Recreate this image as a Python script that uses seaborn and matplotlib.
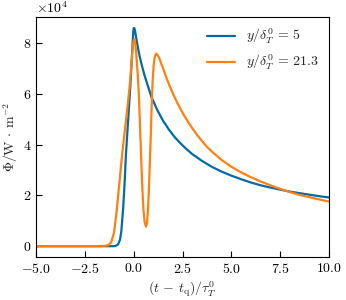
import matplotlib
matplotlib.use("Agg")
import matplotlib.pyplot as plt
import seaborn as sns
import pandas as pd

# Series 1: y/delta_T^0 = 5
t_blue = [-5.0, -2.0, -1.0, -0.9, -0.8, -0.7, -0.63, -0.53, -0.46, -0.4, -0.33, -0.23, -0.15,
          -0.08, -0.05, -0.02, 0.0, 0.03, 0.07, 0.12, 0.2, 0.3, 0.41, 0.55, 0.7, 0.92, 1.2,
          1.5, 1.8, 2.1, 2.4, 2.7, 3.0, 3.5, 4.0, 4.5, 5.0, 5.5, 6.0, 6.5, 7.0, 7.5, 8.0,
          8.5, 9.0, 9.5, 10.0]
phi_blue = [0, 0, 0, 200, 700, 2500, 6000, 15900, 25500, 35600, 44000, 56000, 66000,
            76000, 80500, 84500, 85900, 86000, 85000, 82500, 79000, 75000, 71500, 67500, 63800, 58600, 53800,
            49500, 46000, 43000, 40500, 38300, 36300, 33600, 31300, 29400, 27800, 26400, 25100, 24000, 23100, 22300, 21500,
            20900, 20300, 19700, 19200]

# Series 2: y/delta_T^0 = 21.3
t_orange = [-5.0, -2.0, -1.5, -1.3, -1.15, -1.0, -0.87, -0.75, -0.61, -0.5, -0.35, -0.22,
            -0.12, -0.05, 0.0, 0.03, 0.06, 0.1, 0.15, 0.2, 0.27, 0.34, 0.44, 0.5, 0.56, 0.63,
            0.68, 0.73, 0.78, 0.87, 0.92, 0.97, 1.02, 1.08, 1.14, 1.22, 1.3, 1.4, 1.5, 1.6,
            1.7, 1.85, 2.0, 2.2, 2.4, 2.6, 2.8, 3.0, 3.25, 3.5, 3.75, 4.0, 4.5, 5.0, 5.5, 6.0,
            6.5, 7.0, 7.5, 8.0, 8.5, 9.0, 9.5, 10.0]
phi_orange = [0, 0, 100, 400, 1500, 5500, 14000, 23500, 34500, 42500, 52500, 62000,
              71000, 79000, 81200, 81600, 81000, 78500, 74000, 68500, 59000, 44000, 23500, 14500, 9500, 7700,
              9000, 14000, 22500, 42200, 55000, 65000, 71000, 74800, 75900, 75400, 74300, 72300, 70200, 68000,
              65900, 63000, 60300, 57000, 54000, 51300, 48800, 46500, 43800, 41400, 39200, 37300, 34000, 31300, 29100, 27200,
              25500, 24000, 22600, 21300, 20200, 19300, 18400, 17600]

labels = [r"$y/\delta_T^0\,=\,5$", r"$y/\delta_T^0\,=\,21.3$"]
colors = ["#006BA4", "#FF800E"]

sns.set_style("ticks")
plt.rcParams["font.family"] = "serif"
plt.rcParams["font.serif"] = ["cmr10"]
plt.rcParams["mathtext.fontset"] = "cm"
plt.rcParams["axes.formatter.use_mathtext"] = True
plt.rcParams["font.size"] = 10
plt.rcParams["axes.unicode_minus"] = True

fig = plt.figure(figsize=(3.46, 3.0), dpi=100)
ax = fig.add_axes([0.104, 0.143, 0.847, 0.800])

df1 = pd.DataFrame({"t": t_blue, "phi": phi_blue})
df2 = pd.DataFrame({"t": t_orange, "phi": phi_orange})
sns.lineplot(data=df1, x="t", y="phi", ax=ax, color=colors[0], lw=1.6, label=labels[0])
sns.lineplot(data=df2, x="t", y="phi", ax=ax, color=colors[1], lw=1.6, label=labels[1])

ax.set_xlim(-5, 10)
ax.set_xticks([-5.0, -2.5, 0.0, 2.5, 5.0, 7.5, 10.0])
ax.set_yticks([0, 20000, 40000, 60000, 80000])
ax.ticklabel_format(axis="y", style="sci", scilimits=(4, 4), useMathText=True)
ax.tick_params(direction="in", length=4, width=0.8, labelsize=10, colors="black")
for s in ax.spines.values():
    s.set_linewidth(0.8)
    s.set_color("black")

ax.set_xlabel(r"$(t\,-\,t_\mathrm{q})/\tau_T^0$", fontsize=10, labelpad=2)
ax.set_ylabel(r"$\Phi/\mathrm{W}\,\cdot\,\mathrm{m}^{-2}$", fontsize=10, labelpad=2)
ax.legend(loc="upper right", frameon=False, fontsize=10, handlelength=2.0, borderaxespad=0.3)

fig.savefig("out.png", dpi=100)
